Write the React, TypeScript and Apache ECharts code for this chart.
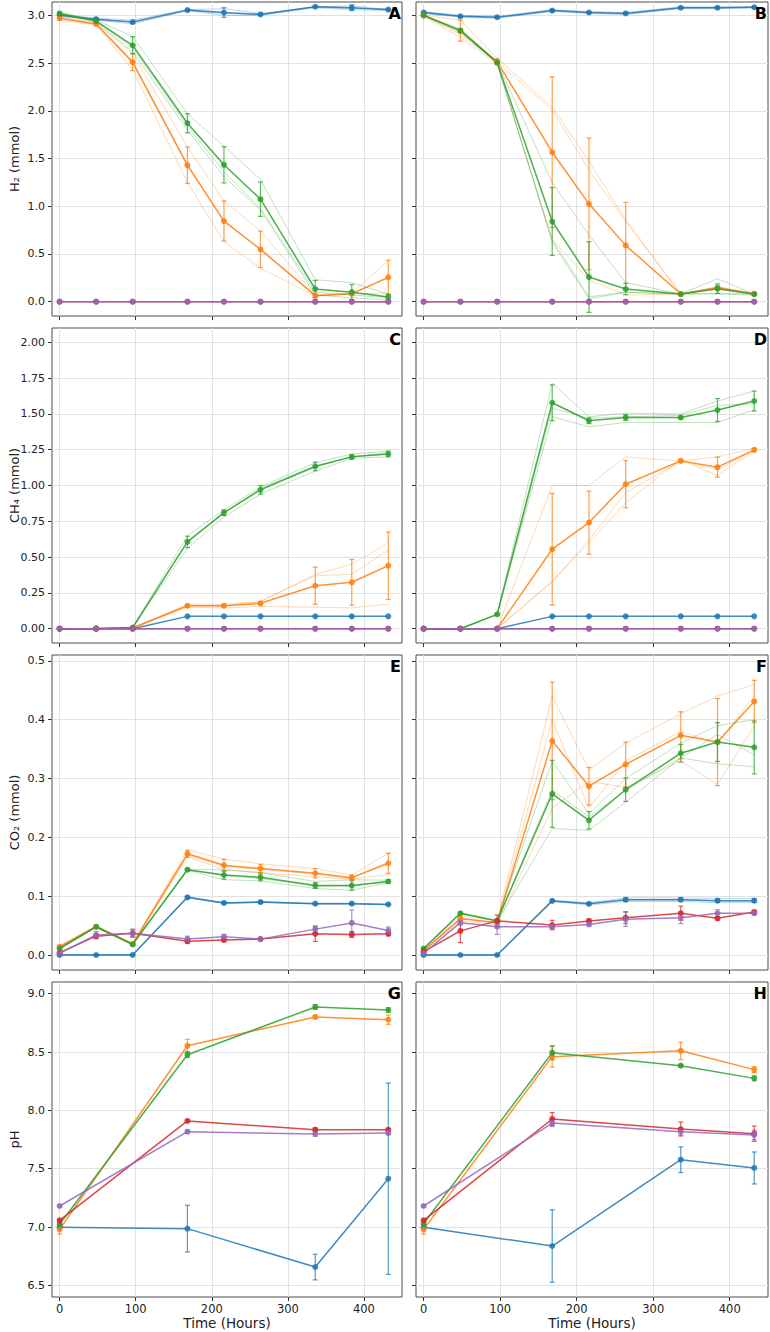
import React, { useEffect, useRef } from "react";
import * as echarts from "echarts";

// ---- sampling times ----
const gasHours = [0, 48, 96, 168, 216, 264, 336, 384, 432];
const phHours = [0, 168, 336, 432];
const timeTicks = [0, 100, 200, 300, 400];

// ---- y tick labels ----
const h2Ticks = [0, 0.5, 1.0, 1.5, 2.0, 2.5, 3.0];
const ch4Ticks = [0, 0.25, 0.5, 0.75, 1.0, 1.25, 1.5, 1.75, 2.0];
const co2Ticks = [0, 0.1, 0.2, 0.3, 0.4, 0.5];
const phTicks = [6.5, 7.0, 7.5, 8.0, 8.5, 9.0];

const zeros9 = [0, 0, 0, 0, 0, 0, 0, 0, 0];

// ---- H2, panel A ----
const aBlue = [3.0, 2.96, 2.93, 3.055, 3.03, 3.01, 3.09, 3.08, 3.06];
const aBlueErr = [0.01, 0.01, 0.01, 0.01, 0.05, 0.01, 0.01, 0.03, 0.01];
const aBlueReps = [
  [3.01, 2.97, 2.95, 3.06, 3.07, 3.02, 3.09, 3.1, 3.06],
  [3.0, 2.96, 2.93, 3.05, 3.02, 3.01, 3.09, 3.07, 3.07],
  [2.99, 2.95, 2.91, 3.05, 3.0, 3.0, 3.08, 3.06, 3.05],
];
const aOrange = [2.97, 2.91, 2.51, 1.43, 0.845, 0.548, 0.063, 0.084, 0.255];
const aOrangeErr = [0.02, 0.01, 0.09, 0.19, 0.21, 0.19, 0.02, 0.02, 0.18];
const aOrangeReps = [
  [2.99, 2.92, 2.6, 1.62, 1.06, 0.74, 0.07, 0.08, 0.09],
  [2.97, 2.91, 2.5, 1.42, 0.85, 0.55, 0.06, 0.08, 0.25],
  [2.95, 2.9, 2.43, 1.25, 0.63, 0.35, 0.06, 0.09, 0.43],
];
const aGreen = [3.02, 2.94, 2.686, 1.87, 1.434, 1.074, 0.133, 0.1, 0.049];
const aGreenErr = [0.01, 0.01, 0.09, 0.1, 0.19, 0.18, 0.09, 0.08, 0.03];
const aGreenReps = [
  [3.03, 2.95, 2.78, 1.97, 1.63, 1.28, 0.23, 0.2, 0.08],
  [3.02, 2.94, 2.66, 1.84, 1.36, 0.98, 0.1, 0.07, 0.04],
  [3.01, 2.93, 2.62, 1.8, 1.31, 0.96, 0.07, 0.04, 0.02],
];

// ---- H2, panel B ----
const bBlue = [3.03, 2.99, 2.98, 3.05, 3.03, 3.02, 3.08, 3.08, 3.085];
const bBlueErr = [0.01, 0.01, 0.01, 0.01, 0.01, 0.01, 0.01, 0.01, 0.01];
const bBlueReps = [
  [3.04, 3.0, 2.99, 3.06, 3.04, 3.03, 3.09, 3.09, 3.09],
  [3.03, 2.99, 2.98, 3.05, 3.03, 3.02, 3.08, 3.08, 3.085],
  [3.02, 2.98, 2.97, 3.04, 3.02, 3.01, 3.07, 3.07, 3.08],
];
const bOrange = [3.0, 2.84, 2.515, 1.566, 1.025, 0.59, 0.08, 0.146, 0.084];
const bOrangeErr = [0.01, 0.11, 0.03, 0.79, 0.69, 0.45, 0.01, 0.02, 0.01];
const bOrangeReps = [
  [3.0, 2.95, 2.55, 2.04, 1.47, 0.86, 0.08, 0.15, 0.09],
  [3.0, 2.8, 2.51, 2.01, 1.38, 0.84, 0.08, 0.16, 0.08],
  [2.99, 2.77, 2.49, 0.65, 0.23, 0.07, 0.08, 0.13, 0.08],
];
const bGreen = [3.0, 2.84, 2.505, 0.84, 0.258, 0.133, 0.08, 0.136, 0.077];
const bGreenErr = [0.01, 0.02, 0.01, 0.355, 0.37, 0.06, 0.005, 0.05, 0.01];
const bGreenReps = [
  [3.0, 2.86, 2.51, 1.25, 0.7, 0.2, 0.08, 0.24, 0.08],
  [3.0, 2.84, 2.5, 0.65, 0.05, 0.1, 0.08, 0.09, 0.08],
  [2.99, 2.82, 2.5, 0.62, 0.03, 0.1, 0.08, 0.08, 0.07],
];

// ---- CH4, panel C ----
const cBlue = [0, 0, 0, 0.086, 0.086, 0.086, 0.086, 0.086, 0.086];
const cOrange = [0, 0, 0.005, 0.16, 0.16, 0.177, 0.3, 0.324, 0.44];
const cOrangeErr = [0, 0, 0, 0.01, 0.01, 0.01, 0.13, 0.16, 0.235];
const cOrangeReps = [
  [0, 0, 0.005, 0.17, 0.17, 0.19, 0.38, 0.45, 0.6],
  [0, 0, 0.005, 0.16, 0.16, 0.19, 0.37, 0.38, 0.55],
  [0, 0, 0.005, 0.15, 0.145, 0.155, 0.15, 0.145, 0.17],
];
const cGreen = [0, 0.002, 0.008, 0.606, 0.81, 0.97, 1.133, 1.2, 1.22];
const cGreenErr = [0, 0, 0, 0.04, 0.02, 0.03, 0.03, 0.015, 0.02];
const cGreenReps = [
  [0, 0.002, 0.008, 0.65, 0.83, 0.99, 1.16, 1.22, 1.24],
  [0, 0.002, 0.008, 0.61, 0.81, 0.98, 1.14, 1.2, 1.23],
  [0, 0.002, 0.008, 0.56, 0.78, 0.94, 1.1, 1.19, 1.2],
];

// ---- CH4, panel D ----
const dBlue = [0, 0, 0, 0.086, 0.086, 0.086, 0.086, 0.086, 0.086];
const dOrange = [0, 0, 0, 0.555, 0.741, 1.009, 1.172, 1.128, 1.249];
const dOrangeErr = [0, 0, 0, 0.39, 0.22, 0.165, 0.01, 0.07, 0.01];
const dOrangeReps = [
  [0, 0, 0, 1.0, 1.0, 1.2, 1.17, 1.2, 1.26],
  [0, 0, 0, 0.33, 0.62, 0.95, 1.17, 1.11, 1.245],
  [0, 0, 0, 0.33, 0.6, 0.88, 1.18, 1.07, 1.24],
];
const dGreen = [0, 0, 0.1, 1.578, 1.452, 1.475, 1.475, 1.527, 1.59];
const dGreenErr = [0, 0, 0.005, 0.125, 0.02, 0.02, 0.01, 0.08, 0.07];
const dGreenReps = [
  [0, 0, 0.1, 1.715, 1.48, 1.505, 1.5, 1.59, 1.66],
  [0, 0, 0.1, 1.54, 1.47, 1.48, 1.49, 1.56, 1.57],
  [0, 0, 0.1, 1.48, 1.41, 1.44, 1.44, 1.44, 1.53],
];

// ---- CO2, panel E ----
const eBlue = [0, 0, 0, 0.098, 0.0885, 0.09, 0.0873, 0.0873, 0.086];
const eBlueErr = [0.001, 0.001, 0.001, 0.002, 0.002, 0.002, 0.001, 0.002, 0.001];
const eBlueReps = [
  [0.001, 0.001, 0.001, 0.099, 0.089, 0.091, 0.088, 0.088, 0.086],
  [0, 0, 0, 0.098, 0.088, 0.09, 0.087, 0.087, 0.086],
  [0, 0, 0, 0.097, 0.088, 0.089, 0.087, 0.087, 0.086],
];
const eOrange = [0.014, 0.048, 0.0187, 0.172, 0.1525, 0.147, 0.139, 0.1315, 0.156];
const eOrangeErr = [0.002, 0.002, 0.002, 0.006, 0.01, 0.007, 0.008, 0.004, 0.017];
const eOrangeReps = [
  [0.016, 0.05, 0.02, 0.179, 0.163, 0.155, 0.147, 0.136, 0.173],
  [0.014, 0.048, 0.019, 0.17, 0.15, 0.146, 0.137, 0.13, 0.158],
  [0.012, 0.046, 0.017, 0.167, 0.145, 0.14, 0.133, 0.129, 0.137],
];
const eGreen = [0.011, 0.048, 0.018, 0.145, 0.136, 0.132, 0.118, 0.118, 0.125];
const eGreenErr = [0.001, 0.002, 0.002, 0.002, 0.007, 0.006, 0.005, 0.008, 0.003];
const eGreenReps = [
  [0.012, 0.049, 0.019, 0.146, 0.145, 0.14, 0.125, 0.128, 0.127],
  [0.011, 0.048, 0.018, 0.145, 0.135, 0.13, 0.117, 0.117, 0.125],
  [0.01, 0.047, 0.017, 0.144, 0.128, 0.126, 0.113, 0.11, 0.123],
];
const eRed = [0.004, 0.032, 0.037, 0.0233, 0.0255, 0.027, 0.036, 0.035, 0.036];
const eRedErr = [0.001, 0.004, 0.006, 0.003, 0.003, 0.002, 0.013, 0.005, 0.003];
const ePurple = [0.003, 0.034, 0.037, 0.027, 0.031, 0.027, 0.044, 0.0545, 0.0415];
const ePurpleErr = [0.001, 0.006, 0.007, 0.005, 0.004, 0.002, 0.005, 0.022, 0.006];

// ---- CO2, panel F ----
const fBlue = [0, 0, 0, 0.092, 0.087, 0.094, 0.094, 0.0924, 0.0924];
const fBlueErr = [0.001, 0.001, 0.001, 0.002, 0.002, 0.003, 0.003, 0.003, 0.003];
const fBlueReps = [
  [0, 0, 0, 0.093, 0.089, 0.097, 0.097, 0.096, 0.096],
  [0, 0, 0, 0.092, 0.087, 0.094, 0.094, 0.092, 0.092],
  [0, 0, 0, 0.091, 0.085, 0.091, 0.091, 0.089, 0.089],
];
const fOrange = [0.0074, 0.062, 0.055, 0.364, 0.287, 0.324, 0.3735, 0.362, 0.431];
const fOrangeErr = [0.002, 0.004, 0.003, 0.1, 0.032, 0.038, 0.04, 0.074, 0.036];
const fOrangeReps = [
  [0.008, 0.066, 0.058, 0.44, 0.315, 0.36, 0.41, 0.44, 0.46],
  [0.007, 0.062, 0.055, 0.4, 0.25, 0.33, 0.38, 0.36, 0.44],
  [0.007, 0.058, 0.052, 0.25, 0.295, 0.285, 0.33, 0.29, 0.39],
];
const fGreen = [0.011, 0.071, 0.058, 0.274, 0.229, 0.281, 0.343, 0.362, 0.353];
const fGreenErr = [0.001, 0.002, 0.002, 0.057, 0.015, 0.02, 0.015, 0.033, 0.045];
const fGreenReps = [
  [0.012, 0.072, 0.059, 0.33, 0.24, 0.3, 0.36, 0.39, 0.4],
  [0.011, 0.071, 0.058, 0.28, 0.235, 0.28, 0.335, 0.375, 0.34],
  [0.01, 0.07, 0.057, 0.215, 0.212, 0.26, 0.335, 0.325, 0.32],
];
const fRed = [0.0057, 0.041, 0.058, 0.051, 0.058, 0.0635, 0.071, 0.0624, 0.073];
const fRedErr = [0.001, 0.02, 0.01, 0.008, 0.003, 0.01, 0.012, 0.003, 0.003];
const fPurple = [0.003, 0.055, 0.048, 0.048, 0.052, 0.0607, 0.0635, 0.071, 0.071];
const fPurpleErr = [0.001, 0.004, 0.013, 0.003, 0.003, 0.012, 0.01, 0.006, 0.003];

// ---- pH, panel G ----
const gBlue = [6.997, 6.986, 6.657, 7.414];
const gBlueErr = [0.005, 0.2, 0.11, 0.82];
const gOrange = [6.98, 8.554, 8.8, 8.777];
const gOrangeErr = [0.04, 0.055, 0.015, 0.04];
const gGreen = [7.023, 8.477, 8.886, 8.86];
const gGreenErr = [0.01, 0.025, 0.02, 0.02];
const gRed = [7.057, 7.909, 7.834, 7.834];
const gRedErr = [0.01, 0.01, 0.015, 0.01];
const gPurple = [7.18, 7.817, 7.797, 7.806];
const gPurpleErr = [0.01, 0.015, 0.02, 0.015];

// ---- pH, panel H ----
const hBlue = [6.997, 6.837, 7.577, 7.506];
const hBlueErr = [0.005, 0.31, 0.11, 0.137];
const hOrange = [6.98, 8.46, 8.51, 8.349];
const hOrangeErr = [0.04, 0.09, 0.075, 0.025];
const hGreen = [7.03, 8.494, 8.383, 8.274];
const hGreenErr = [0.01, 0.06, 0.01, 0.02];
const hRed = [7.057, 7.926, 7.84, 7.8];
const hRedErr = [0.01, 0.055, 0.06, 0.065];
const hPurple = [7.18, 7.891, 7.817, 7.789];
const hPurpleErr = [0.01, 0.03, 0.03, 0.04];

// ---- styling ----
const FONT = '"DejaVu Sans", "Liberation Sans", sans-serif';
const BLUE = "#1f77b4";
const ORANGE = "#ff7f0e";
const GREEN = "#2ca02c";
const RED = "#d62728";
const PURPLE = "#9467bd";

const ROW_TOP = [2, 328, 655, 982];
const ROW_H = [314, 315, 315, 315];
const COL_LEFT = [52, 416];
const COL_W = [350, 352];
const ROW_NAMES = ["H\u2082 (mmol)", "CH\u2084 (mmol)", "CO\u2082 (mmol)", "pH"];

type Trace = { color: string; mean: number[]; err?: number[]; reps?: number[][] };
type YSpec = { min: number; max: number; step: number; ticks: number[]; dec: number };
type Panel = { letter: string; row: number; col: number; hours: number[]; y: YSpec; traces: Trace[] };

const h2Y: YSpec = { min: -0.15, max: 3.14, step: 0.5, ticks: h2Ticks, dec: 1 };
const ch4Y: YSpec = { min: -0.1, max: 2.1, step: 0.25, ticks: ch4Ticks, dec: 2 };
const co2Y: YSpec = { min: -0.0255, max: 0.51, step: 0.1, ticks: co2Ticks, dec: 1 };
const phY: YSpec = { min: 6.4, max: 9.1, step: 0.5, ticks: phTicks, dec: 1 };

const panels: Panel[] = [
  {
    letter: "A", row: 0, col: 0, hours: gasHours, y: h2Y,
    traces: [
      { color: BLUE, mean: aBlue, err: aBlueErr, reps: aBlueReps },
      { color: ORANGE, mean: aOrange, err: aOrangeErr, reps: aOrangeReps },
      { color: GREEN, mean: aGreen, err: aGreenErr, reps: aGreenReps },
      { color: RED, mean: zeros9 },
      { color: PURPLE, mean: zeros9 },
    ],
  },
  {
    letter: "B", row: 0, col: 1, hours: gasHours, y: h2Y,
    traces: [
      { color: BLUE, mean: bBlue, err: bBlueErr, reps: bBlueReps },
      { color: ORANGE, mean: bOrange, err: bOrangeErr, reps: bOrangeReps },
      { color: GREEN, mean: bGreen, err: bGreenErr, reps: bGreenReps },
      { color: RED, mean: zeros9 },
      { color: PURPLE, mean: zeros9 },
    ],
  },
  {
    letter: "C", row: 1, col: 0, hours: gasHours, y: ch4Y,
    traces: [
      { color: BLUE, mean: cBlue },
      { color: ORANGE, mean: cOrange, err: cOrangeErr, reps: cOrangeReps },
      { color: GREEN, mean: cGreen, err: cGreenErr, reps: cGreenReps },
      { color: RED, mean: zeros9 },
      { color: PURPLE, mean: zeros9 },
    ],
  },
  {
    letter: "D", row: 1, col: 1, hours: gasHours, y: ch4Y,
    traces: [
      { color: BLUE, mean: dBlue },
      { color: ORANGE, mean: dOrange, err: dOrangeErr, reps: dOrangeReps },
      { color: GREEN, mean: dGreen, err: dGreenErr, reps: dGreenReps },
      { color: RED, mean: zeros9 },
      { color: PURPLE, mean: zeros9 },
    ],
  },
  {
    letter: "E", row: 2, col: 0, hours: gasHours, y: co2Y,
    traces: [
      { color: BLUE, mean: eBlue, err: eBlueErr, reps: eBlueReps },
      { color: ORANGE, mean: eOrange, err: eOrangeErr, reps: eOrangeReps },
      { color: GREEN, mean: eGreen, err: eGreenErr, reps: eGreenReps },
      { color: RED, mean: eRed, err: eRedErr },
      { color: PURPLE, mean: ePurple, err: ePurpleErr },
    ],
  },
  {
    letter: "F", row: 2, col: 1, hours: gasHours, y: co2Y,
    traces: [
      { color: BLUE, mean: fBlue, err: fBlueErr, reps: fBlueReps },
      { color: ORANGE, mean: fOrange, err: fOrangeErr, reps: fOrangeReps },
      { color: GREEN, mean: fGreen, err: fGreenErr, reps: fGreenReps },
      { color: RED, mean: fRed, err: fRedErr },
      { color: PURPLE, mean: fPurple, err: fPurpleErr },
    ],
  },
  {
    letter: "G", row: 3, col: 0, hours: phHours, y: phY,
    traces: [
      { color: BLUE, mean: gBlue, err: gBlueErr },
      { color: ORANGE, mean: gOrange, err: gOrangeErr },
      { color: GREEN, mean: gGreen, err: gGreenErr },
      { color: RED, mean: gRed, err: gRedErr },
      { color: PURPLE, mean: gPurple, err: gPurpleErr },
    ],
  },
  {
    letter: "H", row: 3, col: 1, hours: phHours, y: phY,
    traces: [
      { color: BLUE, mean: hBlue, err: hBlueErr },
      { color: ORANGE, mean: hOrange, err: hOrangeErr },
      { color: GREEN, mean: hGreen, err: hGreenErr },
      { color: RED, mean: hRed, err: hRedErr },
      { color: PURPLE, mean: hPurple, err: hPurpleErr },
    ],
  },
];

function errorBarRenderer(color: string) {
  return (_params: any, api: any) => {
    const x = api.value(0);
    const y = api.value(1);
    const e = api.value(2);
    if (!(e > 0)) return null;
    const top = api.coord([x, y + e]);
    const bot = api.coord([x, y - e]);
    const cap = 2.5;
    const style = { stroke: color, lineWidth: 1.2, opacity: 0.75 };
    return {
      type: "group",
      children: [
        { type: "line", shape: { x1: top[0], y1: top[1], x2: bot[0], y2: bot[1] }, style },
        { type: "line", shape: { x1: top[0] - cap, y1: top[1], x2: top[0] + cap, y2: top[1] }, style },
        { type: "line", shape: { x1: bot[0] - cap, y1: bot[1], x2: bot[0] + cap, y2: bot[1] }, style },
      ],
    };
  };
}

function buildOption() {
  const grid: any[] = [];
  const xAxis: any[] = [];
  const yAxis: any[] = [];
  const series: any[] = [];
  const graphic: any[] = [];
  const gridLine = { show: true, lineStyle: { color: "#e2e2e2", width: 1 } };
  const tickStyle = { show: true, length: 4, inside: false, lineStyle: { color: "#333", width: 1 } };
  const labelStyle = { color: "#222", fontSize: 11, fontFamily: FONT };

  panels.forEach((p, i) => {
    const left = COL_LEFT[p.col];
    const width = COL_W[p.col];
    const top = ROW_TOP[p.row];
    const height = ROW_H[p.row];
    grid.push({ left, top, width, height, show: true, borderColor: "#4d4d4d", borderWidth: 1, containLabel: false });
    xAxis.push({
      type: "value", gridIndex: i, min: -10, max: 450, minInterval: 100, maxInterval: 100,
      axisLine: { show: false, onZero: false },
      axisTick: { ...tickStyle, customValues: timeTicks },
      axisLabel: {
        ...labelStyle, fontSize: 11.5, show: p.row === 3, margin: 6, customValues: timeTicks,
        formatter: (v: number) => String(v),
      },
      splitLine: gridLine,
    });
    yAxis.push({
      type: "value", gridIndex: i, min: p.y.min, max: p.y.max, minInterval: p.y.step, maxInterval: p.y.step,
      axisLine: { show: false, onZero: false },
      axisTick: { ...tickStyle, customValues: p.y.ticks },
      axisLabel: {
        ...labelStyle, show: p.col === 0, margin: 7, customValues: p.y.ticks,
        formatter: (v: number) => v.toFixed(p.y.dec),
      },
      splitLine: gridLine,
    });

    p.traces.forEach((t) => {
      (t.reps || []).forEach((rep) => {
        series.push({
          type: "line", xAxisIndex: i, yAxisIndex: i, silent: true, symbol: "none", showSymbol: false,
          data: p.hours.map((h, k) => [h, rep[k]]),
          lineStyle: { color: t.color, width: 1, opacity: 0.3 },
        });
      });
      if (t.err) {
        const err = t.err;
        series.push({
          type: "custom", xAxisIndex: i, yAxisIndex: i, silent: true,
          data: p.hours.map((h, k) => [h, t.mean[k], err[k]]),
          encode: { x: 0, y: 1 },
          renderItem: errorBarRenderer(t.color),
        });
      }
      series.push({
        type: "line", xAxisIndex: i, yAxisIndex: i, silent: true,
        data: p.hours.map((h, k) => [h, t.mean[k]]),
        symbol: "circle", symbolSize: 6,
        lineStyle: { color: t.color, width: 1.5, opacity: 0.85 },
        itemStyle: { color: t.color, opacity: 0.85, borderWidth: 0 },
      });
    });

    graphic.push({
      type: "text", x: left + width - 1, y: top + 11, z: 100,
      style: {
        text: p.letter, fill: "#000", font: `bold 16px ${FONT}`,
        textAlign: "right", align: "right", textVerticalAlign: "middle", verticalAlign: "middle",
      },
    });
  });

  ROW_NAMES.forEach((name, r) => {
    graphic.push({
      type: "text", x: 14, y: ROW_TOP[r] + ROW_H[r] / 2, rotation: Math.PI / 2,
      style: {
        text: name, fill: "#222", font: `13px ${FONT}`,
        textAlign: "center", align: "center", textVerticalAlign: "middle", verticalAlign: "middle",
      },
    });
  });
  COL_LEFT.forEach((l, c) => {
    graphic.push({
      type: "text", x: l + COL_W[c] / 2, y: 1323,
      style: {
        text: "Time (Hours)", fill: "#222", font: `13.5px ${FONT}`,
        textAlign: "center", align: "center", textVerticalAlign: "middle", verticalAlign: "middle",
      },
    });
  });

  return { animation: false, backgroundColor: "#fff", grid, xAxis, yAxis, series, graphic };
}

export default function App() {
  const ref = useRef<HTMLDivElement>(null);
  useEffect(() => {
    if (!ref.current) return;
    const chart = echarts.init(ref.current, undefined, { renderer: "svg" });
    chart.setOption(buildOption() as any);
    return () => chart.dispose();
  }, []);
  return (
    <div
      ref={ref}
      style={{ position: "absolute", left: 0, top: 0, width: 770, height: 1332, background: "#fff" }}
    />
  );
}
